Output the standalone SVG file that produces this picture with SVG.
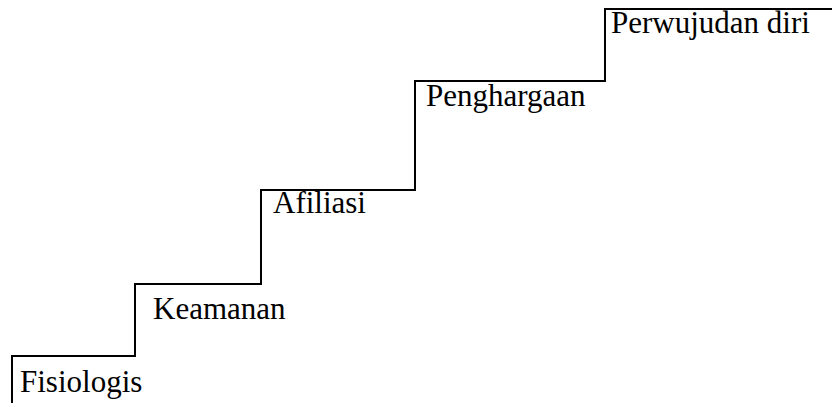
<svg xmlns="http://www.w3.org/2000/svg" width="832" height="403" viewBox="0 0 832 403">
  <style>
    .step { fill: none; stroke: #000; stroke-width: 2; stroke-linejoin: miter; }
    .label { font-family: "Liberation Serif", "Times New Roman", serif; font-size: 31px; fill: #000; }
  </style>
  <rect width="832" height="403" fill="#fff"/>
  <!-- staircase outline: one rise and tread per level -->
  <g id="connectors">
    <path class="step" d="M12,403 V356 H135 V284 H261 V190 H415 V81 H605 V9 H832"/>
  </g>
  <g id="fisiologis"><text class="label" x="20" y="392">Fisiologis</text></g>
  <g id="keamanan"><text class="label" x="153" y="319">Keamanan</text></g>
  <g id="afiliasi"><text class="label" x="273" y="213">Afiliasi</text></g>
  <g id="penghargaan"><text class="label" x="426" y="106">Penghargaan</text></g>
  <g id="perwujudan-diri"><text class="label" x="611" y="33">Perwujudan diri</text></g>
</svg>
